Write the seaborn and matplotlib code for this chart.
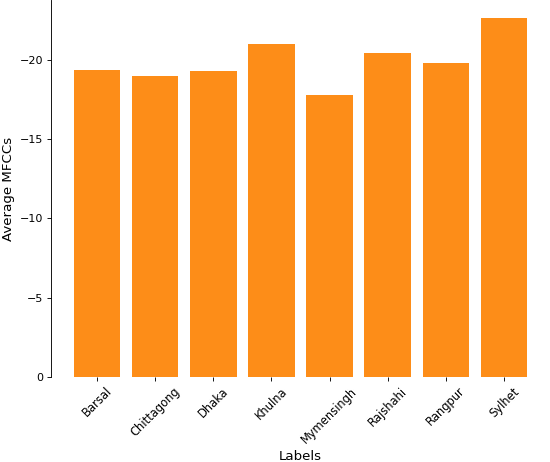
import pandas as pd
import seaborn as sns
import matplotlib
matplotlib.use("Agg")
import matplotlib.pyplot as plt

labels = ["Barsal", "Chittagong", "Dhaka", "Khulna", "Mymensingh", "Rajshahi", "Rangpur", "Sylhet"]
avg_mfcc = [-19.36, -18.98, -19.29, -21.0, -17.78, -20.43, -19.8, -22.64]

df = pd.DataFrame({"Labels": labels, "Average MFCCs": avg_mfcc})

# drawn at dpi 80 so the default text comes out the same size as the reference
fig = plt.figure(figsize=(550 / 80, 462 / 80), dpi=80)
ax = fig.add_axes([51 / 550, 85 / 462, 499 / 550, 377 / 462])

sns.barplot(data=df, x="Labels", y="Average MFCCs", color="#fd8d18", saturation=1, width=0.8, ax=ax)

ax.set_ylim(0, min(avg_mfcc) * 1.05)
ax.set_xlim(-0.79, len(labels) - 0.21)
ax.set_yticks([0, -5, -10, -15, -20])
ax.tick_params(axis="x", rotation=45, labelsize=10.4)

for side in ["top", "right", "bottom"]:
    ax.spines[side].set_visible(False)

ax.set_xlabel("Labels", fontsize=12)
ax.xaxis.label.set_va("baseline")
ax.xaxis.set_label_coords(0.5, -0.221)
ax.set_ylabel("Average MFCCs", fontsize=12)

fig.savefig("out.png", dpi=80)
